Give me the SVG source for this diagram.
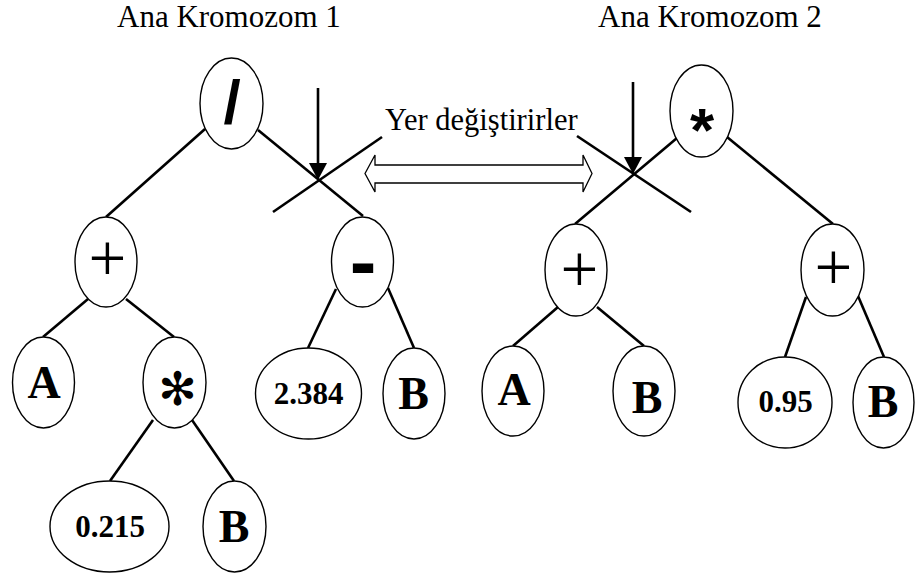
<svg xmlns="http://www.w3.org/2000/svg" width="915" height="575" viewBox="0 0 915 575">
  <defs>
    <style>
      .node ellipse { fill: #fff; stroke: #000; stroke-width: 1.4; }
      .edges line { stroke: #000; stroke-width: 2.6; }
      .title { font-family: "Liberation Serif", "Times New Roman", serif; font-size: 31px; fill: #000; }
      .lbl { font-family: "Liberation Serif", "Times New Roman", serif; font-weight: bold; font-size: 46px; text-anchor: middle; fill: #000; }
      .num { font-family: "Liberation Serif", "Times New Roman", serif; font-weight: bold; font-size: 31px; text-anchor: middle; fill: #000; }
      .op { font-family: "Liberation Serif", "Times New Roman", serif; font-size: 67px; text-anchor: middle; fill: #000; }
      .opb { font-family: "Liberation Sans", Arial, sans-serif; font-weight: bold; text-anchor: middle; fill: #000; }
    </style>
    <marker id="cutArrow" markerUnits="userSpaceOnUse" markerWidth="18" markerHeight="18" refX="13" refY="9" orient="auto">
      <path d="M0,0 L17,9 L0,18 z" fill="#000"/>
    </marker>
  </defs>
  <rect width="915" height="575" fill="#fff"/>

  <!-- titles -->
  <text class="title" x="117" y="27">Ana Kromozom 1</text>
  <text class="title" x="598" y="27">Ana Kromozom 2</text>

  <!-- connectors -->
  <g class="edges" id="connectors">
    <!-- tree 1 -->
    <line x1="205" y1="129" x2="106" y2="217"/>
    <line x1="258" y1="130" x2="363" y2="216"/>
    <line x1="273" y1="212" x2="382" y2="137"/>
    <line x1="318" y1="88" x2="318" y2="176" marker-end="url(#cutArrow)"/>
    <line x1="88" y1="299" x2="43" y2="337"/>
    <line x1="126" y1="299" x2="174" y2="337"/>
    <line x1="153" y1="420" x2="110" y2="481"/>
    <line x1="192" y1="420" x2="234" y2="481"/>
    <line x1="336" y1="289" x2="308" y2="348"/>
    <line x1="388" y1="288" x2="414" y2="348"/>
    <!-- tree 2 -->
    <line x1="677" y1="138" x2="575" y2="224"/>
    <line x1="577" y1="136" x2="691" y2="212"/>
    <line x1="633" y1="82" x2="633" y2="170" marker-end="url(#cutArrow)"/>
    <line x1="727" y1="137" x2="833" y2="224"/>
    <line x1="558" y1="307" x2="513" y2="346"/>
    <line x1="597" y1="307" x2="644" y2="346"/>
    <line x1="806" y1="297" x2="785" y2="357"/>
    <line x1="858" y1="296" x2="884" y2="357"/>
  </g>

  <!-- swap marker -->
  <g id="swap">
    <polygon points="365,173.5 375,155 375,165 583,165 583,155 592,173.5 583,192 583,183 375,183 375,192" fill="#fff" stroke="#000" stroke-width="1.3"/>
    <text class="title" x="385" y="130" style="font-size:30.5px">Yer değiştirirler</text>
  </g>

  <!-- tree 1 nodes -->
  <g class="node" id="t1-div">
    <ellipse cx="231.5" cy="103.5" rx="31.5" ry="45.5"/>
    <text class="opb" x="232" y="123" style="font-size:62px">/</text>
  </g>
  <g class="node" id="t1-plus">
    <ellipse cx="106" cy="262" rx="31" ry="45"/>
    <text class="op" x="107.5" y="281">+</text>
  </g>
  <g class="node" id="t1-minus">
    <ellipse cx="362.5" cy="262" rx="31" ry="45"/>
    <text class="opb" x="363" y="289" style="font-size:80px">-</text>
  </g>
  <g class="node" id="t1-a">
    <ellipse cx="43.5" cy="382.5" rx="31" ry="45.5"/>
    <text class="lbl" x="44" y="398">A</text>
  </g>
  <g class="node" id="t1-mul">
    <ellipse cx="174.5" cy="382.5" rx="31.5" ry="45.5"/>
    <text x="177.5" y="405" text-anchor="middle" style="font-family:'DejaVu Sans',sans-serif;font-weight:bold;font-size:46px">✻</text>
  </g>
  <g class="node" id="t1-c2384">
    <ellipse cx="308.5" cy="393.5" rx="53" ry="45.5"/>
    <text class="num" x="308.5" y="404">2.384</text>
  </g>
  <g class="node" id="t1-b1">
    <ellipse cx="414" cy="393.5" rx="31" ry="45.5"/>
    <text class="lbl" x="413.5" y="409">B</text>
  </g>
  <g class="node" id="t1-c0215">
    <ellipse cx="109.5" cy="526.5" rx="59.5" ry="45.5"/>
    <text class="num" x="110" y="537">0.215</text>
  </g>
  <g class="node" id="t1-b2">
    <ellipse cx="234.5" cy="526.5" rx="31.5" ry="45.5"/>
    <text class="lbl" x="234" y="542">B</text>
  </g>

  <!-- tree 2 nodes -->
  <g class="node" id="t2-mul">
    <ellipse cx="701.5" cy="111" rx="31.5" ry="46"/>
    <text class="opb" x="702" y="151" style="font-size:62px">*</text>
  </g>
  <g class="node" id="t2-plus-left">
    <ellipse cx="576" cy="270" rx="31" ry="46"/>
    <text class="op" x="579.5" y="292">+</text>
  </g>
  <g class="node" id="t2-plus-right">
    <ellipse cx="832.5" cy="270" rx="31.5" ry="46"/>
    <text class="op" x="833.5" y="290">+</text>
  </g>
  <g class="node" id="t2-a">
    <ellipse cx="513" cy="391" rx="31" ry="45"/>
    <text class="lbl" x="514" y="405">A</text>
  </g>
  <g class="node" id="t2-b1">
    <ellipse cx="644" cy="391" rx="31" ry="45"/>
    <text class="lbl" x="647" y="413">B</text>
  </g>
  <g class="node" id="t2-c095">
    <ellipse cx="785" cy="402.5" rx="47" ry="45.5"/>
    <text class="num" x="785.5" y="412">0.95</text>
  </g>
  <g class="node" id="t2-b2">
    <ellipse cx="883.5" cy="402.5" rx="30.5" ry="45.5"/>
    <text class="lbl" x="883" y="417">B</text>
  </g>
</svg>
